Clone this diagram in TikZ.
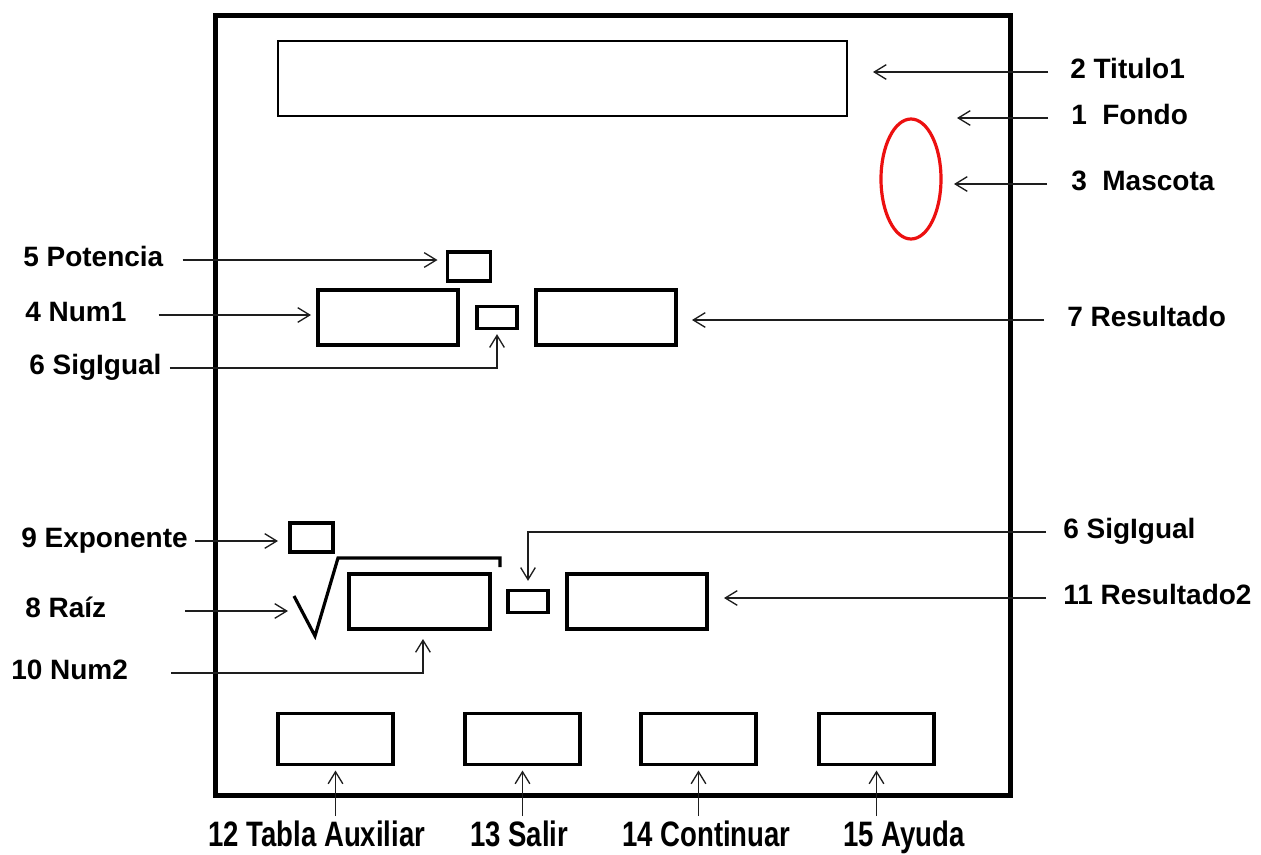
\documentclass[tikz,border=0pt]{standalone}
\usepackage{fontspec}
\setmainfont{Liberation Sans}
\newfontfamily\tallfont[FakeStretch=0.78]{Liberation Sans}
\usepackage{xcolor}
\usepackage{tikz}
\usetikzlibrary{arrows.meta,positioning,shapes.geometric}
\definecolor{formink}{RGB}{0,0,0}
\definecolor{formline}{RGB}{30,30,30}
\definecolor{formred}{RGB}{236,16,16}

\begin{document}
\begin{tikzpicture}[
  x=0.75pt, y=-0.75pt,
  stroke/.style={draw=formink, line width=2.4pt},
  frame/.style={draw=formink, line width=3.75pt, inner sep=0pt, outer sep=0pt},
  box/.style={stroke, inner sep=0pt, outer sep=0pt},
  wide/.style={box, minimum width=105pt, minimum height=41.25pt},
  tiny/.style={box, minimum width=30pt, minimum height=16pt},
  small/.style={box, minimum width=32.25pt, minimum height=21.75pt},
  btn/.style={box, minimum width=86.25pt, minimum height=38.25pt},
  mascot/.style={ellipse, draw=formred, line width=2.4pt, inner sep=0pt, outer sep=0pt,
                 minimum width=45pt, minimum height=90pt},
  tag/.style={font=\fontsize{21pt}{25pt}\selectfont\bfseries, inner sep=0pt,
              text height=9pt, text depth=0pt, anchor=west},
  btag/.style={font=\tallfont\fontsize{26.5pt}{30pt}\selectfont\bfseries, inner sep=0pt,
               anchor=base west},
  arrow/.style={-{Straight Barb[length=9pt, width=11pt]}, line width=1pt, color=formline}
]
  \useasboundingbox (0,0) rectangle (1261,854);

  \node[frame, minimum width=596.25pt, minimum height=585pt] (fondo) at (612.5,405) {};
  \node[box, line width=1.3pt, minimum width=426.75pt, minimum height=56.25pt] (titulo1) at (562.5,78.5) {};
  \node[mascot] (mascota) at (911,179) {};

  \node[small] (potencia) at (469,266.5) {};
  \node[wide] (num1) at (388,317.5) {};
  \node[tiny, right=14.25pt of num1] (sigigual) {};
  \node[wide, right=14.25pt of sigigual] (resultado) {};

  \node[small] (exponente) at (311.5,537.5) {};
  \node[wide, minimum width=105.75pt] (num2) at (419.5,601.5) {};
  \node[tiny, right=13.5pt of num2] (sigigual2) {};
  \node[wide, right=14.25pt of sigigual2] (resultado2) {};
  \draw[stroke] (294,596) coordinate (raiz) -- (315,636) -- (338,558) -- (500,558) -- (500,567);

  \node[btn] (tabla) at (335.5,739) {};
  \node[btn, right=54pt of tabla] (salir) {};
  \node[btn, right=45.75pt of salir] (continuar) {};
  \node[btn, right=47.25pt of continuar] (ayuda) {};

  \node[tag] (titulo1lbl) at (1070,72) {2 Titulo1};
  \node[tag] (fondolbl) at (1071,118) {1~~Fondo};
  \node[tag] (mascotalbl) at (1071,184) {3~~Mascota};
  \node[tag] (potencialbl) at (23,260) {5 Potencia};
  \node[tag] (num1lbl) at (25,315) {4 Num1};
  \node[tag] (sigigualbl) at (29,368) {6 SigIgual};
  \node[tag] (resultadolbl) at (1067,320) {7 Resultado};
  \node[tag] (exponentelbl) at (21,541) {9 Exponente};
  \node[tag] (raizlbl) at (25,611) {8 Raíz};
  \node[tag] (num2lbl) at (11,673) {10 Num2};
  \node[tag] (sigigual2lbl) at (1063,532) {6 SigIgual};
  \node[tag] (resultado2lbl) at (1063,598) {11 Resultado2};

  \node[btag] (tablalbl) at (208,846) {12 Tabla Auxiliar};
  \node[btag] (salirlbl) at (470,846) {13 Salir};
  \node[btag] (continuarlbl) at (622,846) {14 Continuar};
  \node[btag] (ayudalbl) at (843,846) {15 Ayuda};

  \draw[arrow, shorten <=16.5pt, shorten >=19.5pt] (titulo1lbl.west) -- (titulo1lbl.west -| titulo1.east);
  \draw[arrow, shorten <=17.25pt, shorten >=-39.75pt] (fondolbl.west) -- (fondolbl.west -| fondo.east);
  \draw[arrow, shorten <=18pt, shorten >=9.75pt] (mascotalbl.west) -- (mascotalbl.west -| mascota.east);
  \draw[arrow, shorten <=14.25pt, shorten >=7.5pt] (potencialbl.east) -- (potencialbl.east -| potencia.west);
  \draw[arrow, shorten <=24pt, shorten >=5.25pt] (num1lbl.east) -- (num1lbl.east -| num1.west);
  \draw[arrow, shorten <=6pt, shorten >=4.5pt] (sigigualbl.east) -| (sigigual.south);
  \draw[arrow, shorten <=17.25pt, shorten >=12pt] (resultadolbl.west) -- (resultadolbl.west -| resultado.east);
  \draw[arrow, shorten <=5.25pt, shorten >=9pt] (exponentelbl.east) -- (exponentelbl.east -| exponente.west);
  \draw[arrow, shorten <=59.25pt, shorten >=4.5pt] (raizlbl.east) -- (raizlbl.east -| raiz);
  \draw[arrow, shorten <=32.25pt, shorten >=7.5pt] (num2lbl.east) -| ([xshift=2.6pt]num2.south);
  \draw[arrow, shorten <=12.75pt, shorten >=7.5pt] (sigigual2lbl.west) -| (sigigual2.north);
  \draw[arrow, shorten <=12.75pt, shorten >=12.75pt] (resultado2lbl.west) -- (resultado2lbl.west -| resultado2.east);

  \draw[arrow, shorten <=3pt, shorten >=4.5pt] (tablalbl.north -| tabla.south) -- (tabla.south);
  \draw[arrow, shorten <=3pt, shorten >=4.5pt] (salirlbl.north -| salir.south) -- (salir.south);
  \draw[arrow, shorten <=3pt, shorten >=4.5pt] (continuarlbl.north -| continuar.south) -- (continuar.south);
  \draw[arrow, shorten <=3pt, shorten >=4.5pt] (ayudalbl.north -| ayuda.south) -- (ayuda.south);
\end{tikzpicture}
\end{document}
